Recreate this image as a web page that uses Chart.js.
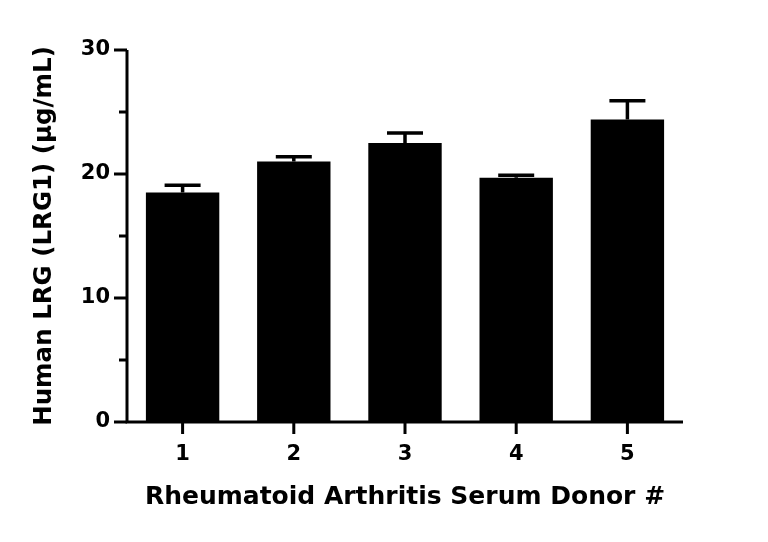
<!DOCTYPE html>
<html>
<head>
<meta charset="utf-8">
<script src="https://cdn.jsdelivr.net/npm/chart.js@4/dist/chart.umd.min.js"></script>
<style>
html,body{margin:0;padding:0;background:#fff;}
#wrap{width:768px;height:542px;}
</style>
</head>
<body>
<div id="wrap"><canvas id="c" width="768" height="542"></canvas></div>
<script>
const categories = ["1", "2", "3", "4", "5"];
const means = [18.5, 21.0, 22.5, 19.7, 24.4];
const errors = [0.6, 0.4, 0.8, 0.2, 1.5];
const yMajorTicks = [0, 10, 20, 30];
const yMinorTicks = [5, 15, 25];
const xTitle = "Rheumatoid Arthritis Serum Donor #";
const yTitle = "Human LRG (LRG1) (µg/mL)";

const FONT = "'DejaVu Sans', sans-serif";

const errorBarPlugin = {
  id: 'errorBars',
  afterDatasetsDraw(chart) {
    const ctx = chart.ctx;
    const meta = chart.getDatasetMeta(0);
    const y = chart.scales.y;
    ctx.save();
    ctx.strokeStyle = '#000';
    ctx.lineWidth = 3.5;
    meta.data.forEach((bar, i) => {
      const top = y.getPixelForValue(means[i] + errors[i]);
      const base = y.getPixelForValue(means[i]);
      ctx.beginPath();
      ctx.moveTo(bar.x, base);
      ctx.lineTo(bar.x, top);
      ctx.moveTo(bar.x - 18, top);
      ctx.lineTo(bar.x + 18, top);
      ctx.stroke();
    });
    ctx.restore();
  }
};

const axisPlugin = {
  id: 'axisTicks',
  afterDraw(chart) {
    const ctx = chart.ctx;
    const y = chart.scales.y;
    const x = chart.scales.x;
    const area = chart.chartArea;
    ctx.save();
    ctx.strokeStyle = '#000';
    ctx.lineWidth = 3;
    ctx.lineCap = 'butt';
    ctx.beginPath();
    ctx.moveTo(area.left, area.top);
    ctx.lineTo(area.left, area.bottom + 1.5);
    ctx.moveTo(area.left - 1.5, area.bottom);
    ctx.lineTo(area.right, area.bottom);
    ctx.stroke();
    ctx.beginPath();
    yMajorTicks.forEach(v => {
      const p = y.getPixelForValue(v);
      ctx.moveTo(area.left - 13, p);
      ctx.lineTo(area.left, p);
    });
    yMinorTicks.forEach(v => {
      const p = y.getPixelForValue(v);
      ctx.moveTo(area.left - 8, p);
      ctx.lineTo(area.left, p);
    });
    categories.forEach((c, i) => {
      const p = x.getPixelForValue(i);
      ctx.moveTo(p, area.bottom);
      ctx.lineTo(p, area.bottom + 12);
    });
    ctx.stroke();
    ctx.restore();
  }
};

new Chart(document.getElementById('c'), {
  type: 'bar',
  data: {
    labels: categories,
    datasets: [{
      data: means,
      backgroundColor: '#000',
      borderWidth: 0,
      barPercentage: 0.66,
      categoryPercentage: 1.0
    }]
  },
  options: {
    responsive: false,
    animation: false,
    devicePixelRatio: 1,
    layout: { padding: { left: 30, right: 85, top: 50, bottom: 30 } },
    plugins: { legend: { display: false }, tooltip: { enabled: false } },
    scales: {
      x: {
        grid: { display: false, drawTicks: false },
        border: { display: false },
        ticks: { color: '#000', padding: 20, font: { family: FONT, size: 21, weight: 'bold' } },
        title: { display: true, text: xTitle, color: '#000', padding: { top: 10, bottom: 0 }, font: { family: FONT, size: 25, weight: 'bold' } },
        afterFit(scale) { scale.height = 90; }
      },
      y: {
        min: 0, max: 30,
        grid: { display: false, drawTicks: false },
        border: { display: false },
        ticks: {
          stepSize: 10, color: '#000', padding: 17,
          font: { family: FONT, size: 21, weight: 'bold' }
        },
        title: { display: true, text: yTitle, color: '#000', padding: { top: 0, bottom: 0 }, font: { family: FONT, size: 24.5, weight: 'bold' } },
        afterFit(scale) { scale.width = 97; }
      }
    }
  },
  plugins: [errorBarPlugin, axisPlugin]
});
</script>
</body>
</html>
